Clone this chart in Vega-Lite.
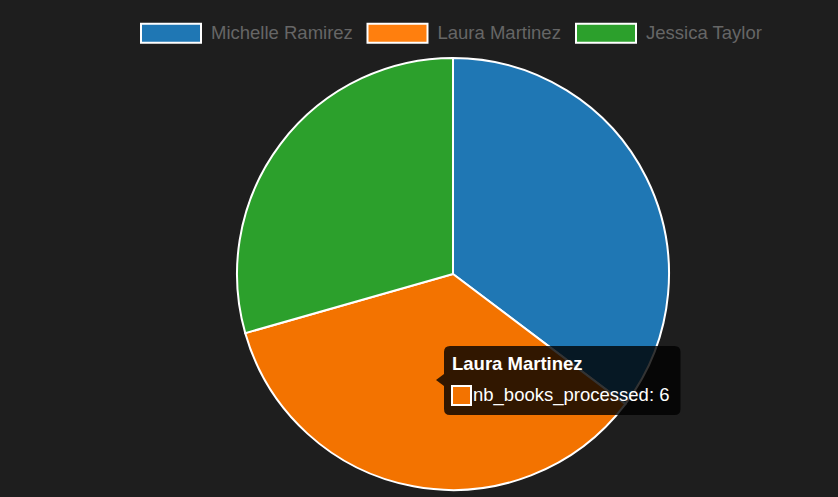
{
  "$schema": "https://vega.github.io/schema/vega-lite/v6.json",
  "width": 770,
  "height": 432,
  "autosize": {"type": "none"},
  "padding": {"left": 68, "top": 58, "right": 0, "bottom": 7},
  "background": "#1e1e1e",
  "config": {"view": {"stroke": null}, "font": "Liberation Sans"},
  "data": {
    "values": [
      {"name": "Michelle Ramirez", "nb_books_processed": 6},
      {"name": "Laura Martinez", "nb_books_processed": 6},
      {"name": "Jessica Taylor", "nb_books_processed": 5}
    ]
  },
  "layer": [
    {
      "mark": {"type": "arc", "stroke": "#ffffff", "strokeWidth": 2},
      "encoding": {
        "theta": {"field": "nb_books_processed", "type": "quantitative", "stack": true},
        "order": {"field": "name", "sort": "descending"},
        "fill": {
          "condition": {"test": "datum.name === 'Laura Martinez'", "value": "#f37300"},
          "field": "name",
          "type": "nominal",
          "scale": {
            "domain": ["Michelle Ramirez", "Laura Martinez", "Jessica Taylor"],
            "range": ["#1f77b4", "#ff7f0e", "#2ca02c"]
          },
          "legend": {
            "orient": "none",
            "legendX": 92,
            "legendY": -36,
            "direction": "horizontal",
            "title": null,
            "padding": 0,
            "symbolType": "M-3,-0.95H3V0.95H-3Z",
            "symbolSize": 400,
            "symbolStrokeColor": "#ffffff",
            "symbolStrokeWidth": 2,
            "symbolOpacity": 1,
            "labelColor": "#666666",
            "labelFont": "Liberation Sans",
            "labelFontSize": 18.5,
            "labelOffset": 29,
            "columnPadding": 10.5
          }
        }
      }
    },
    {
      "transform": [{"filter": "datum.name === 'Laura Martinez'"}],
      "mark": {
        "type": "point",
        "shape": "M-3,72H221.5Q227.5,72 227.5,78V135Q227.5,141 221.5,141H-3Q-9,141 -9,135V112L-17,106L-9,100V78Q-9,72 -3,72Z",
        "size": 4,
        "filled": true,
        "fill": "#000000",
        "opacity": 0.8,
        "strokeWidth": 0
      },
      "encoding": {}
    },
    {
      "transform": [{"filter": "datum.name === 'Laura Martinez'"}],
      "mark": {
        "type": "point",
        "shape": "M-1,112H18V131H-1Z",
        "size": 4,
        "filled": true,
        "fill": "#f37300",
        "stroke": "#ffffff",
        "strokeWidth": 2,
        "opacity": 1
      },
      "encoding": {}
    },
    {
      "transform": [{"filter": "datum.name === 'Laura Martinez'"}],
      "mark": {
        "type": "text",
        "align": "left",
        "baseline": "alphabetic",
        "dx": -1,
        "dy": 96,
        "fontSize": 18.5,
        "fontWeight": "bold",
        "color": "#ffffff"
      },
      "encoding": {"text": {"field": "name"}}
    },
    {
      "transform": [
        {"filter": "datum.name === 'Laura Martinez'"},
        {"calculate": "'nb_books_processed: ' + datum.nb_books_processed", "as": "label"}
      ],
      "mark": {
        "type": "text",
        "align": "left",
        "baseline": "alphabetic",
        "dx": 20,
        "dy": 127,
        "fontSize": 18.5,
        "color": "#ffffff"
      },
      "encoding": {"text": {"field": "label"}}
    }
  ]
}
